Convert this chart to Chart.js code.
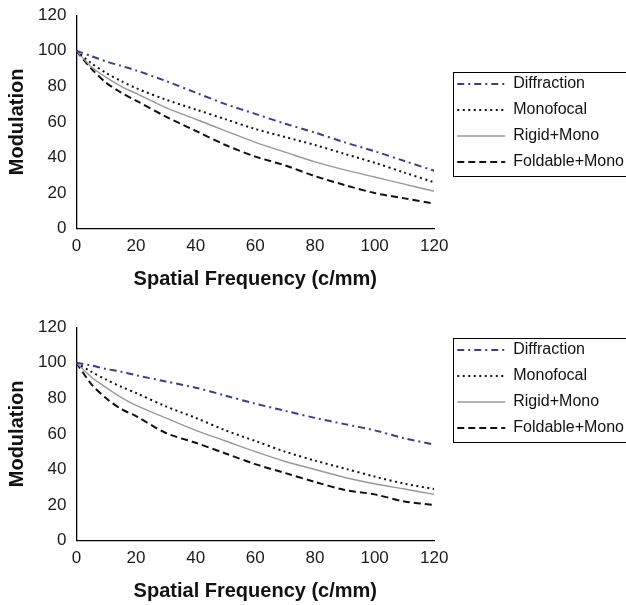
<!DOCTYPE html>
<html>
<head>
<meta charset="utf-8">
<script src="https://cdn.jsdelivr.net/npm/chart.js@4"></script>
<style>
  body { margin: 0; background: #fff; }
  .wrap { position: absolute; left: 0; width: 626px; height: 293px; }
</style>
</head>
<body>
<div class="wrap" style="top:0"><canvas id="chartTop" width="626" height="293"></canvas></div>
<div class="wrap" style="top:312px"><canvas id="chartBottom" width="626" height="293"></canvas></div>
<script>
/* Data */
const freq = [0, 5, 10, 15, 20, 30, 40, 50, 60, 70, 80, 90, 100, 110, 120];
const seriesNames = ["Diffraction", "Monofocal", "Rigid+Mono", "Foldable+Mono"];

// top panel
const topDiffraction = [100, 97, 94, 91.5, 89, 83, 76.5, 70, 64.5, 59, 54, 48.5, 43.5, 38, 32.5];
const topMonofocal   = [100, 93, 87.5, 83, 79, 72.5, 67, 61.5, 56, 51.5, 47, 42, 37, 31.5, 26];
const topRigid       = [100, 91, 85, 80, 76, 68, 61.5, 55, 48.5, 43, 37.5, 33, 29, 25, 21];
const topFoldable    = [100, 90, 82, 76.5, 72, 63, 55, 47, 40.5, 35.5, 29.5, 24.5, 20, 17, 14];

// bottom panel
const botDiffraction = [100, 98.5, 96.5, 95, 93, 89.5, 86, 81.5, 77, 73, 69, 65.5, 62, 57.5, 54];
const botMonofocal   = [100, 95, 90.5, 86.5, 83, 75.5, 69, 62, 56, 50, 45, 40.5, 36, 32, 29];
const botRigid       = [100, 92, 86, 80.5, 76, 69, 62, 56, 50, 44.5, 40, 35.5, 32, 29, 26];
const botFoldable    = [100, 88, 80, 74, 70, 60.5, 55, 49, 43, 38, 33, 28.5, 26, 22, 20];

const styles = [
    { color: '#3b3b9c', dash: [7, 4, 2, 4], width: 2 },
    { color: '#111111', dash: [2, 3.5], width: 2 },
    { color: '#999999', dash: [], width: 1.4 },
    { color: '#111111', dash: [7, 4], width: 2 }
];

const fontFamily = "'Liberation Sans', Arial, Helvetica, sans-serif";

// nudge the legend to where it sits in the figure, then frame it
const legendFrame = {
    id: 'legendFrame',
    afterLayout(chart, args, opts) {
        const lg = chart.legend;
        lg.left += opts.dx || 0;
        lg.right = chart.width;
        lg.width = lg.right - lg.left;
        lg.top += opts.dy || 0;
        lg.bottom += opts.dy || 0;
    },
    afterDraw(chart) {
        const items = chart.legend.legendHitBoxes;
        if (!items || !items.length) return;
        const last = items[items.length - 1];
        const top = Math.round(items[0].top - 4) + 0.5;
        const bottom = Math.round(last.top + 22) + 0.5;
        const ctx = chart.ctx;
        ctx.save();
        ctx.strokeStyle = '#000';
        ctx.lineWidth = 1;
        ctx.strokeRect(Math.round(items[0].left - 4) + 0.5, top, 300, bottom - top);
        ctx.restore();
    }
};

function makeChart(id, values, dx, dy) {
    const datasets = values.map((v, i) => ({
        label: seriesNames[i],
        data: freq.map((f, j) => ({ x: f, y: v[j] })),
        borderColor: styles[i].color,
        backgroundColor: styles[i].color,
        borderDash: styles[i].dash,
        borderWidth: styles[i].width,
        pointRadius: 0,
        tension: 0.3,
        fill: false
    }));

    return new Chart(id, {
        type: 'line',
        data: { datasets: datasets },
        plugins: [legendFrame],
        options: {
            responsive: false,
            animation: false,
            layout: { padding: { top: 11, left: 3, right: 48, bottom: 0 } },
            scales: {
                x: {
                    type: 'linear',
                    min: 0,
                    max: 120,
                    ticks: { stepSize: 20, color: '#1a1a1a', font: { family: fontFamily, size: 17 }, padding: 3 },
                    grid: { display: false, drawTicks: true, tickLength: 5, tickColor: '#000' },
                    border: { color: '#000', width: 1.3 },
                    title: {
                        display: true,
                        text: 'Spatial Frequency (c/mm)',
                        color: '#111',
                        font: { family: fontFamily, size: 20, weight: 'bold' },
                        padding: { top: 7, bottom: 2 }
                    }
                },
                y: {
                    min: 0,
                    max: 120,
                    ticks: { stepSize: 20, color: '#1a1a1a', font: { family: fontFamily, size: 17 }, padding: 5 },
                    grid: { display: false, drawTicks: true, tickLength: 5, tickColor: '#000' },
                    border: { color: '#000', width: 1.3 },
                    title: {
                        display: true,
                        text: 'Modulation',
                        color: '#111',
                        font: { family: fontFamily, size: 20, weight: 'bold' },
                        padding: { top: 2, bottom: 4 }
                    }
                }
            },
            plugins: {
                tooltip: { enabled: false },
                legendFrame: { dx: dx, dy: dy },
                legend: {
                    position: 'right',
                    align: 'start',
                    labels: {
                        usePointStyle: true,
                        pointStyle: 'line',
                        pointStyleWidth: 48,
                        color: '#111',
                        padding: 10,
                        font: { family: fontFamily, size: 16 },
                        generateLabels(chart) {
                            const items = Chart.defaults.plugins.legend.labels.generateLabels(chart);
                            items.forEach(item => {
                                const ds = chart.data.datasets[item.datasetIndex];
                                item.lineDash = ds.borderDash;
                                item.strokeStyle = ds.borderColor;
                                item.lineWidth = ds.borderWidth;
                            });
                            return items;
                        }
                    }
                }
            }
        }
    });
}

makeChart('chartTop', [topDiffraction, topMonofocal, topRigid, topFoldable], 13, 55);
makeChart('chartBottom', [botDiffraction, botMonofocal, botRigid, botFoldable], 13, 9);
</script>
</body>
</html>
